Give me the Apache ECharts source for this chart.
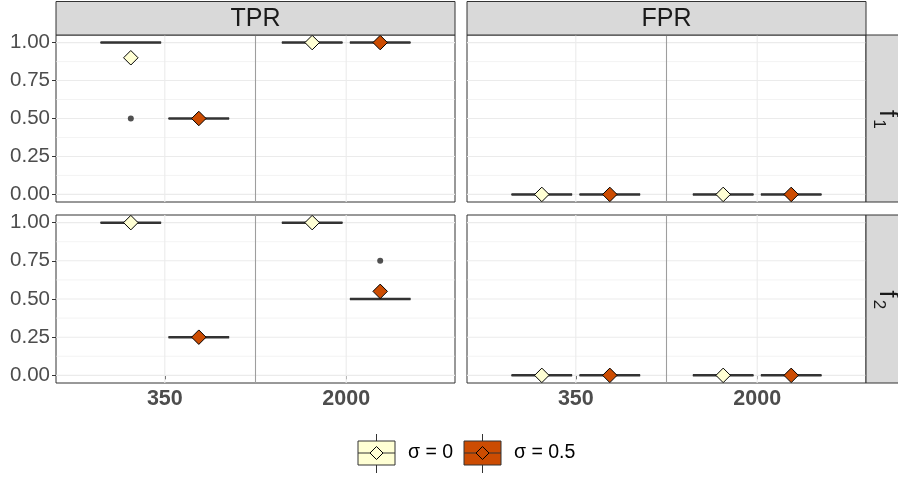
<!DOCTYPE html>
<html><head><meta charset="utf-8">
<script src="https://cdn.jsdelivr.net/npm/echarts@6/dist/echarts.min.js"></script>
<style>html,body{margin:0;padding:0;background:#fff}#c{width:898px;height:477px}</style>
</head><body><div id="c"></div>
<script>
// ---------- data ----------
const categories = ['350', '2000'];
const groupNames = ['σ = 0', 'σ = 0.5'];
const columnLabels = ['TPR', 'FPR'];
const rowSubscripts = ['1', '2'];
const yTicks = [0, 0.25, 0.5, 0.75, 1];
const yMinorTicks = [0.125, 0.375, 0.625, 0.875];

// box summaries per category: [lower whisker, q1, median, q3, upper whisker]
const tprF1Box0 = [[1, 1, 1, 1, 1], [1, 1, 1, 1, 1]];
const tprF1Box5 = [[0.5, 0.5, 0.5, 0.5, 0.5], [1, 1, 1, 1, 1]];
const tprF2Box0 = [[1, 1, 1, 1, 1], [1, 1, 1, 1, 1]];
const tprF2Box5 = [[0.25, 0.25, 0.25, 0.25, 0.25], [0.5, 0.5, 0.5, 0.5, 0.5]];
const fprF1Box0 = [[0, 0, 0, 0, 0], [0, 0, 0, 0, 0]];
const fprF1Box5 = [[0, 0, 0, 0, 0], [0, 0, 0, 0, 0]];
const fprF2Box0 = [[0, 0, 0, 0, 0], [0, 0, 0, 0, 0]];
const fprF2Box5 = [[0, 0, 0, 0, 0], [0, 0, 0, 0, 0]];

// means per category
const tprF1Mean0 = [0.9, 1];
const tprF1Mean5 = [0.5, 1];
const tprF2Mean0 = [1, 1];
const tprF2Mean5 = [0.25, 0.55];
const fprF1Mean0 = [0, 0];
const fprF1Mean5 = [0, 0];
const fprF2Mean0 = [0, 0];
const fprF2Mean5 = [0, 0];

// outliers: [category index, value]
const tprF1Out0 = [[0, 0.5]];
const tprF1Out5 = [];
const tprF2Out0 = [];
const tprF2Out5 = [[1, 0.75]];
const fprF1Out0 = [];
const fprF1Out5 = [];
const fprF2Out0 = [];
const fprF2Out5 = [];

// ---------- layout / style ----------
const COLORS = ['#FFFFD4', '#CC4C02'];
const DODGE = 0.1875, HALF_W = 0.167;
const FONT = 'Liberation Sans, Arial, sans-serif';
const panels = [
  {box: [tprF1Box0, tprF1Box5], mean: [tprF1Mean0, tprF1Mean5], out: [tprF1Out0, tprF1Out5]},
  {box: [fprF1Box0, fprF1Box5], mean: [fprF1Mean0, fprF1Mean5], out: [fprF1Out0, fprF1Out5]},
  {box: [tprF2Box0, tprF2Box5], mean: [tprF2Mean0, tprF2Mean5], out: [tprF2Out0, tprF2Out5]},
  {box: [fprF2Box0, fprF2Box5], mean: [fprF2Mean0, fprF2Mean5], out: [fprF2Out0, fprF2Out5]}
];
const gridPos = [
  {left: 56, top: 35, width: 399, height: 167},
  {left: 467, top: 35, width: 399, height: 167},
  {left: 56, top: 215, width: 399, height: 168},
  {left: 467, top: 215, width: 399, height: 168}
];

const grids = gridPos.map(g => Object.assign({show: true, backgroundColor: '#fff', borderColor: '#333', borderWidth: 1, containLabel: false}, g));
const xAxes = gridPos.map((g, i) => ({
  type: 'value', gridIndex: i, min: 0.4, max: 2.6,
  splitLine: {show: false}, axisLine: {show: false},
  axisTick: {show: i >= 2, customValues: [1, 2], length: 4, lineStyle: {color: '#333', width: 1}},
  axisLabel: {show: i >= 2, customValues: [1, 2], formatter: v => categories[Math.round(v) - 1],
    fontSize: 21.5, fontWeight: 'bold', color: '#4D4D4D', margin: 5, fontFamily: FONT}
}));
const yAxes = gridPos.map((g, i) => ({
  type: 'value', gridIndex: i, min: -0.05, max: 1.05,
  splitLine: {show: false}, axisLine: {show: false},
  axisTick: {show: i % 2 === 0, customValues: yTicks, length: 4, lineStyle: {color: '#333', width: 1}},
  axisLabel: {show: i % 2 === 0, customValues: yTicks, formatter: v => v.toFixed(2),
    fontSize: 20.5, color: '#4D4D4D', margin: 6, fontFamily: FONT}
}));

const series = [];
panels.forEach((p, i) => {
  const gl = yTicks.map(v => [v, 0]).concat(yMinorTicks.map(v => [v, 1]), [[1, 2], [2, 2], [1.5, 3]]);
  series.push({
    type: 'custom', xAxisIndex: i, yAxisIndex: i, z: 1, silent: true,
    data: gl,
    renderItem: (params, api) => {
      const cs = params.coordSys;
      const v = api.value(0), k = api.value(1);
      if (k < 2) {
        const y = api.coord([1, v])[1];
        return {type: 'line', shape: {x1: cs.x, y1: y, x2: cs.x + cs.width, y2: y},
          style: {stroke: '#EBEBEB', lineWidth: k === 0 ? 1.1 : 0.6}};
      }
      const x = api.coord([v, 0])[0];
      return {type: 'line', shape: {x1: x, y1: cs.y, x2: x, y2: cs.y + cs.height},
        style: {stroke: k === 2 ? '#EBEBEB' : '#9E9E9E', lineWidth: 1.1}};
    }
  });
  [0, 1].forEach(gi => {
    const off = gi === 0 ? -DODGE : DODGE;
    series.push({
      type: 'custom', name: groupNames[gi], xAxisIndex: i, yAxisIndex: i, z: 3, silent: true,
      data: p.box[gi].map((b, ci) => [ci + 1 + off].concat(b)),
      renderItem: (params, api) => {
        const x = api.value(0);
        const lo = api.coord([x, api.value(1)]), q1 = api.coord([x, api.value(2)]);
        const md = api.coord([x, api.value(3)]), q3 = api.coord([x, api.value(4)]);
        const hi = api.coord([x, api.value(5)]);
        const xl = api.coord([x - HALF_W, 0])[0], xr = api.coord([x + HALF_W, 0])[0];
        return {type: 'group', children: [
          {type: 'line', shape: {x1: lo[0], y1: lo[1], x2: q1[0], y2: q1[1]}, style: {stroke: '#333', lineWidth: 1}},
          {type: 'line', shape: {x1: hi[0], y1: hi[1], x2: q3[0], y2: q3[1]}, style: {stroke: '#333', lineWidth: 1}},
          {type: 'rect', shape: {x: xl, y: q3[1], width: xr - xl, height: q1[1] - q3[1]},
            style: {fill: COLORS[gi], stroke: '#333', lineWidth: 1}},
          {type: 'line', shape: {x1: xl, y1: md[1], x2: xr, y2: md[1]}, style: {stroke: '#333', lineWidth: 2.5}}
        ]};
      }
    });
    series.push({
      type: 'scatter', name: groupNames[gi] + ' outliers', xAxisIndex: i, yAxisIndex: i, z: 4, silent: true,
      symbol: 'circle', symbolSize: 6, itemStyle: {color: '#262626'},
      data: p.out[gi].map(([ci, v]) => [ci + 1 + off, v])
    });
    series.push({
      type: 'scatter', name: groupNames[gi] + ' mean', xAxisIndex: i, yAxisIndex: i, z: 5, silent: true,
      symbol: 'diamond', symbolSize: 14.5,
      itemStyle: {color: COLORS[gi], borderColor: '#000', borderWidth: 1, opacity: 1},
      data: p.mean[gi].map((v, ci) => [ci + 1 + off, v])
    });
  });
});

// ---------- strips & legend (graphics) ----------
const graphics = [];
columnLabels.forEach((lab, ci) => {
  const g = gridPos[ci];
  graphics.push({type: 'rect', shape: {x: g.left, y: 1.5, width: g.width, height: g.top - 1.5},
    style: {fill: '#D9D9D9', stroke: '#333', lineWidth: 1}, z: 10});
  graphics.push({type: 'text', x: g.left + g.width / 2, y: 19, z: 11,
    style: {text: lab, fontSize: 25, fill: '#1A1A1A', align: 'center', verticalAlign: 'middle', fontFamily: FONT}});
});
rowSubscripts.forEach((sub, ri) => {
  const g = gridPos[ri * 2 + 1];
  const sx = g.left + g.width;
  const cx = sx + 16, cy = g.top + g.height / 2;
  graphics.push({type: 'rect', shape: {x: sx, y: g.top, width: 40, height: g.height},
    style: {fill: '#D9D9D9', stroke: '#333', lineWidth: 1}, z: 10});
  graphics.push({type: 'text', x: cx + 5, y: cy - 5, rotation: -Math.PI / 2, z: 11,
    style: {text: 'f', fontSize: 25, fill: '#1A1A1A', align: 'center', verticalAlign: 'middle', fontFamily: FONT}});
  graphics.push({type: 'text', x: cx - 3, y: cy + 5.5, rotation: -Math.PI / 2, z: 11,
    style: {text: sub, fontSize: 17, fill: '#1A1A1A', align: 'center', verticalAlign: 'middle', fontFamily: FONT}});
});
const legendX = [358, 464];
groupNames.forEach((name, gi) => {
  const x = legendX[gi], y = 441, w = 37, h = 24, cx = x + w / 2, cy = y + h / 2;
  graphics.push({type: 'line', shape: {x1: cx, y1: 434, x2: cx, y2: y}, style: {stroke: '#333', lineWidth: 1}});
  graphics.push({type: 'line', shape: {x1: cx, y1: y + h, x2: cx, y2: 473}, style: {stroke: '#333', lineWidth: 1}});
  graphics.push({type: 'rect', shape: {x: x, y: y, width: w, height: h}, style: {fill: COLORS[gi], stroke: '#333', lineWidth: 1}});
  graphics.push({type: 'line', shape: {x1: x, y1: cy, x2: x + w, y2: cy}, style: {stroke: '#333', lineWidth: 1}});
  graphics.push({type: 'polygon', shape: {points: [[cx, cy - 6.5], [cx + 6.5, cy], [cx, cy + 6.5], [cx - 6.5, cy]]},
    style: {fill: COLORS[gi], stroke: '#000', lineWidth: 1}, z: 2});
  graphics.push({type: 'text', x: x + w + 13, y: cy, style: {text: name, fontSize: 19.5, fill: '#000', align: 'left', verticalAlign: 'middle', fontFamily: FONT}});
});

const chart = echarts.init(document.getElementById('c'));
chart.setOption({
  animation: false,
  backgroundColor: '#fff',
  grid: grids, xAxis: xAxes, yAxis: yAxes, series: series, graphic: graphics
});
</script>
</body></html>
